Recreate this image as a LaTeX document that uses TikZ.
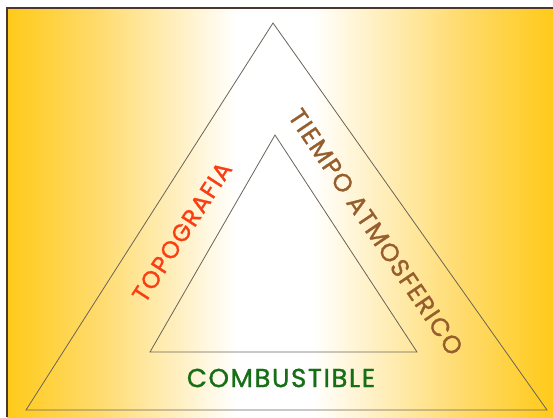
\documentclass[tikz,border=0pt]{standalone}
\usepackage{fontspec}
\setmainfont{Poppins}
\newfontfamily\fumetto[FakeBold=1.2,LetterSpace=6]{Poppins}
\usepackage{tikz}
\usetikzlibrary{positioning}
\definecolor{oro}{RGB}{255,202,25}
\definecolor{oroch}{RGB}{255,218,105}
\definecolor{rosso}{RGB}{250,62,20}
\definecolor{marrone}{RGB}{150,94,44}
\definecolor{verde}{RGB}{22,110,22}
\definecolor{bordo}{RGB}{75,55,45}
\definecolor{linea}{RGB}{105,100,90}
\pgfdeclarehorizontalshading{sfondo}{100bp}{color(0bp)=(oro); color(25bp)=(oro);
  color(33bp)=(oroch); color(46bp)=(white); color(53bp)=(white);
  color(67bp)=(oroch); color(75bp)=(oro); color(100bp)=(oro)}
\tikzset{
  lato/.style={draw=linea, line width=0.8pt, line join=miter},
  testo/.style={font=\fumetto\fontsize{24}{28}\selectfont, inner sep=0pt}
}

\begin{document}
\begin{tikzpicture}[x=1pt,y=-1pt]
    \useasboundingbox (0,0) rectangle (553,417);
    % Disegna lo sfondo sfumato con la cornice
    \fill[white] (0,0) rectangle (553,417);
    \shade[shading=sfondo] (7,8) rectangle (553,417);
    \draw[bordo, line width=1.3pt] (7,417) -- (7,8) -- (553,8);
    % Disegna i due triangoli
    \draw[lato] (26,410) -- (273,23) -- (547,410) -- cycle;
    \draw[lato] (150,352) -- (275,135) -- (417,352) -- cycle;
    % Disegno le etichette dei lati
    \node[testo, text=rosso, rotate=57] (topo) at (182,232) {TOPOGRAFIA};
    \node[testo, text=marrone, rotate=-56, font=\fumetto\fontsize{25}{30}\selectfont] (tiempo) at (376,232) {TIEMPO ATMOSFERICO};
    \node[testo, text=verde, font=\fumetto\fontsize{26}{30}\selectfont] (comb) at (281,378) {COMBUSTIBLE};
\end{tikzpicture}
\end{document}
